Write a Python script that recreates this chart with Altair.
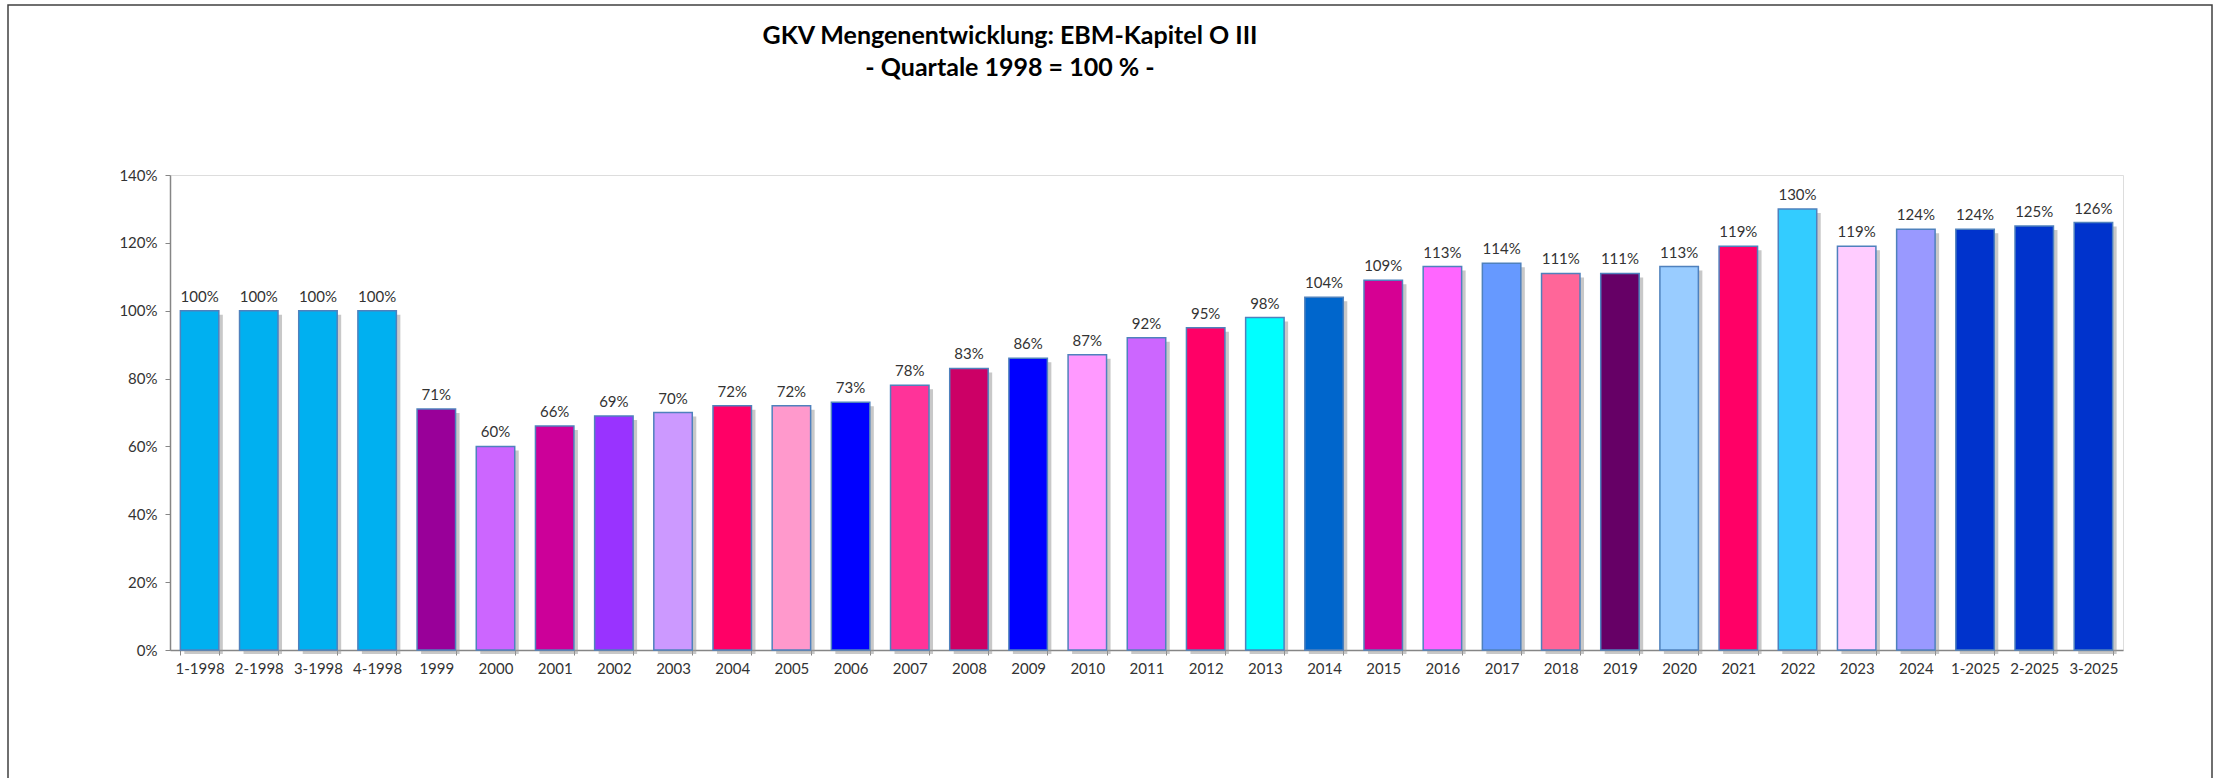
import altair as alt
import pandas as pd

categories = ["1-1998", "2-1998", "3-1998", "4-1998", "1999", "2000", "2001", "2002",
              "2003", "2004", "2005", "2006", "2007", "2008", "2009", "2010", "2011",
              "2012", "2013", "2014", "2015", "2016", "2017", "2018", "2019", "2020",
              "2021", "2022", "2023", "2024", "1-2025", "2-2025", "3-2025"]
values = [100, 100, 100, 100, 71, 60, 66, 69, 70, 72, 72, 73, 78, 83, 86, 87, 92,
          95, 98, 104, 109, 113, 114, 111, 111, 113, 119, 130, 119, 124, 124, 125, 126]
colors = ["#00B0F0", "#00B0F0", "#00B0F0", "#00B0F0", "#990099", "#CC66FF", "#CC0099",
          "#9933FF", "#CC99FF", "#FF0066", "#FF99CC", "#0000FF", "#FF3399", "#CC0066",
          "#0000FF", "#FF99FF", "#CC66FF", "#FF0066", "#00FFFF", "#0066CC", "#D60093",
          "#FF66FF", "#6699FF", "#FF6699", "#660066", "#99CCFF", "#FF0066", "#33CCFF",
          "#FFCCFF", "#9999FF", "#0033CC", "#0033CC", "#0033CC"]
title_lines = ["GKV Mengenentwicklung: EBM-Kapitel O III", "- Quartale 1998 = 100 % -"]

df = pd.DataFrame({"cat": categories, "val": [v / 100 for v in values], "col": colors})
tdf = pd.DataFrame({"t": title_lines, "row": [0, 1]})

FONT = "Lato"
TXT = "#333333"

x = alt.X("cat:N", sort=categories, title=None,
          scale=alt.Scale(paddingInner=0.35, paddingOuter=0.175),
          axis=alt.Axis(labelAngle=0, labelFont=FONT, labelFontSize=15, labelColor=TXT,
                        labelPadding=6, tickBand="extent", tickSize=5, tickColor="#868686",
                        domainColor="#868686", domainWidth=1.5, labelOverlap=False))
y = alt.Y("val:Q", title=None,
          scale=alt.Scale(domain=[0, 1.4], nice=False),
          axis=alt.Axis(format="%", values=[0, 0.2, 0.4, 0.6, 0.8, 1.0, 1.2, 1.4],
                        grid=False, labelFont=FONT, labelFontSize=15, labelColor=TXT,
                        labelPadding=8, tickSize=5, tickColor="#868686",
                        domainColor="#868686", domainWidth=1.5))

base = alt.Chart(df)

frame = base.mark_rect(fill=None, stroke="#404040", strokeWidth=1.5).encode(
    x=alt.value(8 - 170), x2=alt.value(2212 - 170), y=alt.value(5 - 175), y2=alt.value(800)
).transform_filter(alt.datum.cat == "1-1998")

shadow = base.mark_bar(color="#9a9a9a", opacity=0.55, xOffset=4, x2Offset=4, yOffset=4).encode(
    x=x, y=y
)

bars = base.mark_bar(stroke="#4F81BD", strokeWidth=1.5).encode(
    x=x, y=y, color=alt.Color("col:N", scale=None)
)

labels = base.mark_text(baseline="alphabetic", dy=-9, font=FONT, fontSize=15, color=TXT).encode(
    x=x, y=y, text=alt.Text("val:Q", format=".0%")
)

def title_line(row, ypos):
    return alt.Chart(tdf).mark_text(font=FONT, fontSize=25, fontWeight="bold", color="#000000",
                                    align="center", baseline="alphabetic").encode(
        x=alt.value(1010 - 170), y=alt.value(ypos - 175), text="t:N"
    ).transform_filter(alt.datum.row == row)

chart = alt.layer(frame, shadow, bars, labels, title_line(0, 44), title_line(1, 76)).properties(
    width=1953, height=475,
    autosize=alt.AutoSizeParams(type="none"),
    padding={"left": 170, "top": 175, "right": 91, "bottom": 128},
).configure_view(stroke="#7f7f7f", strokeWidth=1.5).configure(background="white")

chart.save("out.html", embed_options={"renderer": "svg", "actions": False})
